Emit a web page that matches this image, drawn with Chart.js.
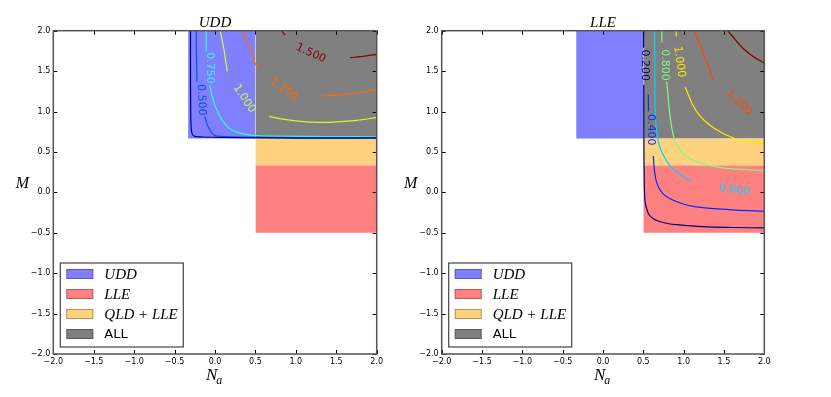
<!DOCTYPE html>
<html>
<head>
<meta charset="utf-8">
<script src="https://cdn.jsdelivr.net/npm/chart.js@4.4.0/dist/chart.umd.min.js"></script>
<style>
html, body { margin: 0; padding: 0; background: #fff; }
#wrap { position: relative; width: 831px; height: 397px; overflow: hidden; }
canvas { position: absolute; top: 0; }
#cLeft { left: 0; }
#cRight { left: 400px; }
</style>
</head>
<body>
<div id="wrap">
  <canvas id="cLeft" width="400" height="397"></canvas>
  <canvas id="cRight" width="431" height="397"></canvas>
</div>
<script>
// axis ticks (both panels)
const tickValues = [-2, -1.5, -1, -0.5, 0, 0.5, 1, 1.5, 2];

// coloured regions, same on both panels
const regionNames = ['UDD', 'LLE', 'QLD + LLE', 'ALL'];
const regionX0 = [-0.333, 0.5, 0.5, 0.5];
const regionX1 = [0.5, 2, 2, 2];
const regionY0 = [0.667, -0.5, 0.333, 0.667];
const regionY1 = [2, 0.333, 0.667, 2];

// UDD panel contours, null = gap left for the inline label
const uddLevels = [0.25, 0.5, 0.75, 1.0, 1.25, 1.5];
const uddLines = [
    [[-0.303, 2.0], [-0.303, 1.4], [-0.300, 1.0], [-0.295, 0.80], [-0.28, 0.715], [-0.25, 0.693], [-0.15, 0.685], [0.3, 0.676], [1.0, 0.672], [2.0, 0.670]],
    [[-0.231, 2.0], [-0.229, 1.7], [-0.222, 1.37], null, [-0.127, 0.94], [-0.10, 0.85], [-0.066, 0.775], [-0.02, 0.715], [0.02, 0.695], [0.3, 0.683], [1.0, 0.678], [2.0, 0.676]],
    [[-0.107, 2.0], [-0.109, 1.85], [-0.11, 1.75], null, [-0.066, 1.33], [-0.035, 1.19], [-0.004, 1.085], [0.04, 0.98], [0.099, 0.879], [0.17, 0.80], [0.263, 0.745], [0.47, 0.705], [0.8, 0.695], [1.4, 0.69], [2.0, 0.688]],
    [[0.066, 2.0], [0.085, 1.90], [0.107, 1.786], [0.13, 1.64], [0.152, 1.497], null, [0.672, 0.94], [0.78, 0.915], [1.0, 0.885], [1.2, 0.868], [1.45, 0.87], [1.75, 0.89], [2.0, 0.925]],
    [[0.338, 2.0], [0.375, 1.90], [0.412, 1.823], [0.46, 1.70], [0.495, 1.60], [0.536, 1.535], null, [1.336, 1.19], [1.5, 1.203], [1.686, 1.22], [2.0, 1.27]],
    [[0.826, 2.0], [0.866, 1.947], null, [1.67, 1.666], [1.85, 1.685], [2.0, 1.708]]
];
const uddLabels = [
    ['0.500', -0.17, 1.143, 88],
    ['0.750', -0.066, 1.539, 90],
    ['1.000', 0.362, 1.159, 57],
    ['1.250', 0.856, 1.276, 35],
    ['1.500', 1.185, 1.72, 25]
];

// LLE panel contours
const lleLevels = [0.2, 0.4, 0.6, 0.8, 1.0, 1.2, 1.4];
const lleLines = [
    [[0.503, 2.0], [0.503, 1.79], null, [0.505, 1.33], [0.507, 0.6], [0.512, 0.1], [0.52, -0.1], [0.54, -0.2], [0.574, -0.28], [0.63, -0.33], [0.70, -0.36], [0.8, -0.385], [0.91, -0.40], [1.24, -0.425], [1.6, -0.435], [2.0, -0.44]],
    [[0.562, 1.21], [0.564, 1.0], null, [0.624, 0.45], [0.635, 0.30], [0.657, 0.153], [0.69, 0.06], [0.74, -0.012], [0.8, -0.06], [0.9, -0.11], [1.05, -0.16], [1.24, -0.19], [1.65, -0.22], [2.0, -0.232]],
    [[0.64, 2.0], [0.642, 1.5], [0.648, 1.0], [0.66, 0.80], [0.685, 0.63], [0.72, 0.52], [0.77, 0.42], [0.83, 0.33], [0.91, 0.255], [1.0, 0.19], [1.09, 0.135]],
    [[0.728, 2.0], [0.73, 1.85], null, [0.79, 1.37], [0.81, 1.15], [0.825, 1.0], [0.852, 0.80], [0.893, 0.63], [0.95, 0.53], [1.03, 0.45], [1.16, 0.38], [1.35, 0.325], [1.6, 0.29], [2.0, 0.27]],
    [[0.905, 2.0], [0.91, 1.93], null, [1.02, 1.30], [1.112, 1.085], [1.2, 0.95], [1.318, 0.837], [1.45, 0.75], [1.566, 0.694], [1.75, 0.635], [2.0, 0.607]],
    [[1.132, 2.0], [1.18, 1.87], [1.236, 1.745], [1.30, 1.57], [1.37, 1.38]],
    [[1.546, 2.0], [1.64, 1.89], [1.732, 1.786], [1.86, 1.68], [2.0, 1.60]]
];
const lleLabels = [
    ['0.200', 0.521, 1.572, 90],
    ['0.400', 0.595, 0.775, 90],
    ['0.800', 0.773, 1.576, 90],
    ['1.000', 0.946, 1.616, 82],
    ['1.200', 1.69, 1.11, 45],
    ['0.600', 1.629, 0.029, 8]
];

const regionColors = ['#8080ff', '#ff8080', '#ffd280', '#808080'];
const uddColors = ['#000080', '#004dff', '#29ffce', '#ceff29', '#ff6800', '#800000'];
const lleColors = ['#000080', '#002bff', '#00d4ff', '#7bff7b', '#ffe500', '#ff4800', '#800000'];

const serif = '"Liberation Serif", "DejaVu Serif", serif';

function fmtTick(v) {
    return v.toFixed(1).replace('-', '\u2212');
}

// title, axis names, legend, inline labels, inward ticks and frame
const decoPlugin = {
    id: 'deco',
    afterDraw(chart, args, opts) {
        const ctx = chart.ctx;
        const a = chart.chartArea;
        const xs = chart.scales.x, ys = chart.scales.y;
        ctx.save();

        // contour labels
        ctx.font = '11px "DejaVu Sans"';
        ctx.textAlign = 'center';
        ctx.textBaseline = 'middle';
        opts.labels.forEach(function (l, i) {
            ctx.save();
            ctx.translate(xs.getPixelForValue(l[1]), ys.getPixelForValue(l[2]));
            ctx.rotate(l[3] * Math.PI / 180);
            ctx.fillStyle = opts.labelColors[i];
            ctx.fillText(l[0], 0, 0);
            ctx.restore();
        });

        // ticks pointing in, on all four sides
        ctx.strokeStyle = '#000';
        ctx.lineWidth = 1;
        ctx.beginPath();
        for (const v of tickValues) {
            const px = Math.round(xs.getPixelForValue(v)) + 0.5;
            ctx.moveTo(px, a.top); ctx.lineTo(px, a.top + 4);
            ctx.moveTo(px, a.bottom); ctx.lineTo(px, a.bottom - 4);
            const py = Math.round(ys.getPixelForValue(v)) + 0.5;
            ctx.moveTo(a.left, py); ctx.lineTo(a.left + 4, py);
            ctx.moveTo(a.right, py); ctx.lineTo(a.right - 4, py);
        }
        ctx.stroke();

        ctx.strokeStyle = '#555';
        ctx.lineWidth = 1.5;
        ctx.strokeRect(a.left, a.top, a.width, a.height);

        // legend
        const bx = a.left + 7, by = a.bottom - 91, bw = 123, bh = 84;
        ctx.fillStyle = '#fff';
        ctx.fillRect(bx, by, bw, bh);
        ctx.strokeStyle = '#444';
        ctx.lineWidth = 1.2;
        ctx.strokeRect(bx, by, bw, bh);
        ctx.textAlign = 'left';
        ctx.textBaseline = 'middle';
        regionNames.forEach(function (name, i) {
            const cy = by + 11 + i * 20;
            ctx.fillStyle = regionColors[i];
            ctx.fillRect(bx + 6, cy - 5, 27, 10);
            ctx.strokeStyle = 'rgba(0,0,0,0.3)';
            ctx.lineWidth = 1;
            ctx.strokeRect(bx + 6.5, cy - 4.5, 26, 9);
            ctx.fillStyle = '#000';
            ctx.font = name === 'ALL' ? '13px "DejaVu Sans"' : 'italic 15px ' + serif;
            ctx.fillText(name, bx + 44, cy + 1);
        });

        // title
        const cx = (a.left + a.right) / 2;
        ctx.textAlign = 'center';
        ctx.textBaseline = 'alphabetic';
        ctx.font = 'italic 15px ' + serif;
        ctx.fillText(opts.title, cx, 27);

        // y name
        ctx.font = 'italic 16px ' + serif;
        ctx.fillText('M', a.left - 31, 188);

        // x name N_a
        ctx.textAlign = 'left';
        ctx.font = 'italic 17px ' + serif;
        const nx = cx - 9;
        ctx.fillText('N', nx, 380);
        const nw = ctx.measureText('N').width;
        ctx.font = 'italic 12px ' + serif;
        ctx.fillText('a', nx + nw - 1, 384);

        ctx.restore();
    }
};

function makeChart(id, lines, colors, labels, title, yWidth, padRight) {
    const datasets = [];
    lines.forEach(function (pts, i) {
        const data = [];
        let lastX = 0;
        pts.forEach(function (p) {
            if (p) {
                data.push({x: p[0], y: p[1]});
                lastX = p[0];
            } else {
                data.push({x: lastX, y: null});
            }
        });
        datasets.push({
            type: 'line',
            data: data,
            borderColor: colors[i],
            borderWidth: 1.2,
            pointRadius: 0,
            tension: 0.3,
            spanGaps: false,
            fill: false,
            order: 1
        });
    });
    regionNames.forEach(function (name, i) {
        datasets.push({
            type: 'line',
            label: name,
            data: [{x: regionX0[i], y: regionY1[i]}, {x: regionX1[i], y: regionY1[i]}],
            borderColor: 'rgba(0,0,0,0)',
            borderWidth: 0,
            backgroundColor: regionColors[i],
            pointRadius: 0,
            fill: {value: regionY0[i]},
            order: 2
        });
    });

    const tickOpts = {
        font: {family: 'DejaVu Sans', size: 8},
        color: '#000',
        maxRotation: 0,
        autoSkip: false,
        callback: fmtTick
    };

    return new Chart(document.getElementById(id), {
        type: 'line',
        data: {datasets: datasets},
        options: {
            responsive: false,
            animation: false,
            events: [],
            layout: {padding: {left: 0, top: 30.7, right: padRight, bottom: 0}},
            plugins: {
                legend: {display: false},
                tooltip: {enabled: false},
                deco: {title: title, labels: labels, labelColors: labels.map(function (l) {
                    const lev = parseFloat(l[0]);
                    const levels = colors.length === 6 ? uddLevels : lleLevels;
                    return colors[levels.findIndex(function (v) { return Math.abs(v - lev) < 1e-6; })];
                })}
            },
            scales: {
                x: {
                    type: 'linear', min: -2, max: 2,
                    afterBuildTicks: function (s) { s.ticks = tickValues.map(function (v) { return {value: v}; }); },
                    grid: {display: false, drawTicks: false},
                    border: {display: false},
                    ticks: Object.assign({padding: 3}, tickOpts),
                    afterFit: function (s) { s.height = 43; }
                },
                y: {
                    type: 'linear', min: -2, max: 2,
                    afterBuildTicks: function (s) { s.ticks = tickValues.map(function (v) { return {value: v}; }); },
                    grid: {display: false, drawTicks: false},
                    border: {display: false},
                    ticks: Object.assign({padding: 3}, tickOpts),
                    afterFit: function (s) { s.width = yWidth; }
                }
            }
        },
        plugins: [decoPlugin]
    });
}

makeChart('cLeft', uddLines, uddColors, uddLabels, 'UDD', 53.3, 23.3);
makeChart('cRight', lleLines, lleColors, lleLabels, 'LLE', 41.7, 66.7);
</script>
</body>
</html>
